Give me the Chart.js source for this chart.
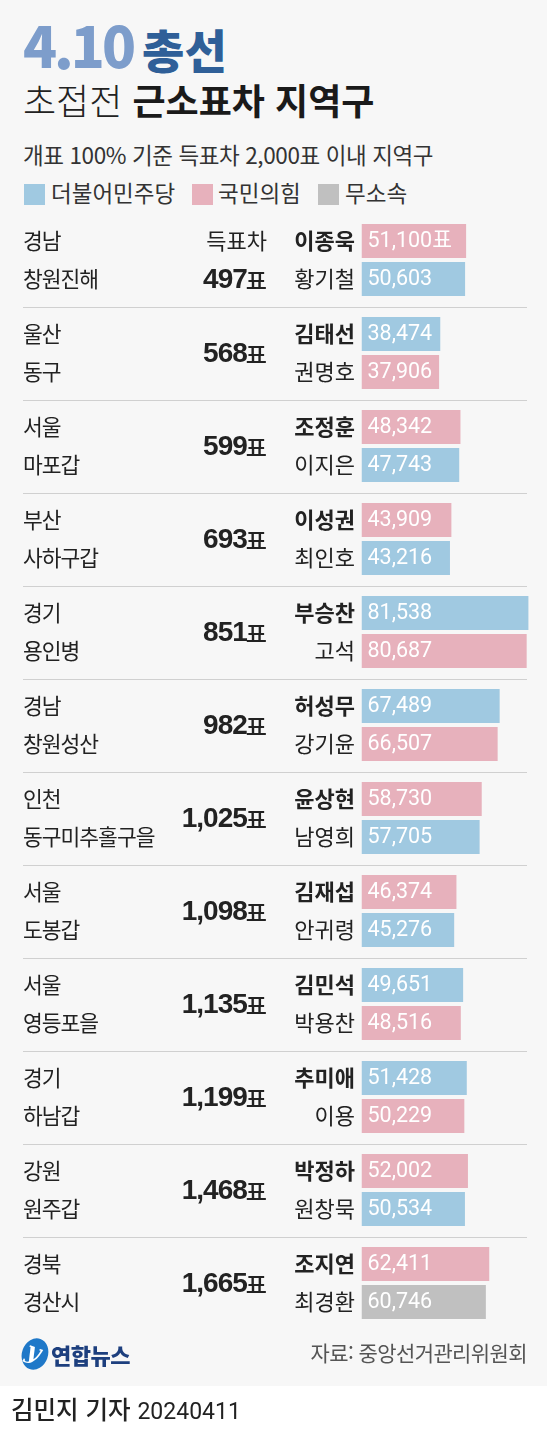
<!DOCTYPE html>
<html lang="ko">
<head>
<meta charset="utf-8">
<script src="https://cdn.jsdelivr.net/npm/chart.js@4.4.1/dist/chart.umd.min.js"></script>
<style>
  html,body{margin:0;padding:0;background:#fff;}
  body{width:547px;height:1440px;position:relative;overflow:hidden;font-family:"Noto Sans CJK KR","Noto Sans",sans-serif;}
  .panel{position:absolute;left:0;top:0;width:547px;height:1386px;background:#f7f7f7;}
  .abs{position:absolute;white-space:nowrap;line-height:1;}
  #c{position:absolute;left:0;top:0;}
  .sq{position:absolute;width:21px;height:21px;}
</style>
</head>
<body>
<div class="panel"></div>
<div class="abs" style="left:23px;top:16px;">
  <span style="font-size:56px;font-weight:900;color:#7d9dcb;letter-spacing:-3px;">4.10</span><span style="font-size:46px;font-weight:900;color:#2f5f98;margin-left:9px;">총선</span>
</div>
<div class="abs" style="left:23px;top:81px;font-size:36px;color:#222;">
  <span style="font-weight:300;">초접전</span> <span style="font-weight:700;color:#1a1a1a;">근소표차 지역구</span>
</div>
<div class="abs" style="left:23px;top:143px;font-size:22.5px;color:#333;letter-spacing:-0.4px;">개표 100% 기준 득표차 2,000표 이내 지역구</div>
<div class="sq" style="left:24px;top:184px;background:#a0c9e1;"></div>
<div class="abs" style="left:51px;top:181px;font-size:22.5px;color:#333;">더불어민주당</div>
<div class="sq" style="left:192px;top:184px;background:#e7b1bc;"></div>
<div class="abs" style="left:218px;top:181px;font-size:22.5px;color:#333;">국민의힘</div>
<div class="sq" style="left:318px;top:184px;background:#c0c0c0;"></div>
<div class="abs" style="left:345px;top:181px;font-size:22.5px;color:#333;">무소속</div>

<canvas id="c" width="547" height="1440"></canvas>

<div class="abs" style="left:22px;top:1338px;">
  <span style="display:inline-block;width:26px;height:32px;border-radius:50%;background:#1f78c8;transform:rotate(20deg);vertical-align:middle;position:relative;">
    <span style="position:absolute;left:4px;top:2px;font-size:24px;font-style:italic;font-weight:700;color:#fff;font-family:'DejaVu Serif',serif;">y</span>
  </span><span style="font-size:22px;font-weight:900;color:#1d3f7e;margin-left:3px;vertical-align:middle;letter-spacing:-0.5px;">연합뉴스</span>
</div>
<div class="abs" style="right:20px;top:1342px;font-size:21px;color:#555;letter-spacing:-0.6px;">자료: 중앙선거관리위원회</div>
<div class="abs" style="left:11px;top:1397px;font-size:24.5px;color:#222;">
  <span style="font-weight:500;">김민지 기자</span> <span style="font-size:23px;font-family:Roboto,'Noto Sans',sans-serif;">20240411</span>
</div>

<script>
// ---- data ----
const provinces = ['경남','울산','서울','부산','경기','경남','인천','서울','서울','경기','강원','경북'];
const districts = ['창원진해','동구','마포갑','사하구갑','용인병','창원성산','동구미추홀구을','도봉갑','영등포을','하남갑','원주갑','경산시'];
const voteGaps = [497,568,599,693,851,982,1025,1098,1135,1199,1468,1665];
const winners = ['이종욱','김태선','조정훈','이성권','부승찬','허성무','윤상현','김재섭','김민석','추미애','박정하','조지연'];
const winnerVotes = [51100,38474,48342,43909,81538,67489,58730,46374,49651,51428,52002,62411];
const winnerParty = ['국민의힘','더불어민주당','국민의힘','국민의힘','더불어민주당','더불어민주당','국민의힘','국민의힘','더불어민주당','더불어민주당','국민의힘','국민의힘'];
const runnersUp = ['황기철','권명호','이지은','최인호','고석','강기윤','남영희','안귀령','박용찬','이용','원창묵','최경환'];
const runnerVotes = [50603,37906,47743,43216,80687,66507,57705,45276,48516,50229,50534,60746];
const runnerParty = ['더불어민주당','국민의힘','더불어민주당','더불어민주당','국민의힘','국민의힘','더불어민주당','더불어민주당','국민의힘','국민의힘','더불어민주당','무소속'];
const partyColors = {'더불어민주당':'#a0c9e1','국민의힘':'#e7b1bc','무소속':'#c0c0c0'};

const KR = '"Noto Sans CJK KR","Noto Sans",sans-serif';
const fmt = v => v.toLocaleString('en-US');

const rowPlugin = {
  id: 'rowText',
  beforeDatasetsDraw(chart){
    const {ctx, scales:{y}} = chart;
    ctx.save();
    ctx.strokeStyle = '#d0d0d0';
    ctx.lineWidth = 1;
    for (let i = 0; i < provinces.length - 1; i++) {
      const yy = Math.round((y.getPixelForValue(i) + y.getPixelForValue(i+1)) / 2) + 0.5;
      ctx.beginPath(); ctx.moveTo(23, yy); ctx.lineTo(527, yy); ctx.stroke();
    }
    ctx.restore();
  },
  afterDatasetsDraw(chart){
    const {ctx, scales:{x,y}} = chart;
    const m0 = chart.getDatasetMeta(0), m1 = chart.getDatasetMeta(1);
    ctx.save();
    ctx.textBaseline = 'middle';
    const gapRight = 267, nameRight = 355;
    for (let i = 0; i < provinces.length; i++) {
      const y0 = m0.data[i].y, y1 = m1.data[i].y, yc = y.getPixelForValue(i);
      // region
      ctx.fillStyle = '#222'; ctx.textAlign = 'left';
      ctx.font = '21.5px ' + KR;
      ctx.letterSpacing = '-1px';
      ctx.fillText(provinces[i], 23, y0);
      ctx.fillText(districts[i], 23, y1);
      ctx.letterSpacing = '0px';
      // gap
      ctx.textAlign = 'right';
      let gy = yc;
      if (i === 0) {
        ctx.font = '22px ' + KR;
        ctx.fillText('득표차', gapRight, y0);
        gy = y1;
      }
      ctx.font = '500 23px ' + KR;
      const pw = ctx.measureText('표').width;
      ctx.fillText('표', gapRight, gy + 1);
      ctx.font = 'bold 28px "Liberation Sans",Arial,sans-serif';
      ctx.letterSpacing = '-1px';
      ctx.fillText(fmt(voteGaps[i]), gapRight - pw + 1, gy + 1);
      ctx.letterSpacing = '0px';
      // names
      ctx.font = 'bold 22px ' + KR;
      ctx.fillText(winners[i], nameRight, y0);
      ctx.font = '22px ' + KR;
      ctx.fillText(runnersUp[i], nameRight, y1);
      // values
      ctx.fillStyle = '#ffffff'; ctx.textAlign = 'left';
      ctx.font = '21.5px Roboto,' + KR;
      const bx = x.getPixelForValue(0) + 6;
      ctx.fillText(fmt(winnerVotes[i]) + (i === 0 ? '표' : ''), bx, y0 + 1);
      ctx.fillText(fmt(runnerVotes[i]), bx, y1 + 1);
    }
    ctx.restore();
  }
};

new Chart(document.getElementById('c'), {
  type: 'bar',
  data: {
    labels: provinces.map((p, i) => p + ' ' + districts[i]),
    datasets: [
      { label: '당선', data: winnerVotes, backgroundColor: winnerParty.map(p => partyColors[p]) },
      { label: '2위', data: runnerVotes, backgroundColor: runnerParty.map(p => partyColors[p]) }
    ]
  },
  options: {
    indexAxis: 'y',
    responsive: false,
    devicePixelRatio: 1,
    animation: false,
    categoryPercentage: 76/93,
    barPercentage: 34/38,
    layout: { padding: { left: 361.5, right: 11.5, top: 213.5, bottom: 110.5 } },
    scales: {
      x: { display: false, min: 0, max: 85000 },
      y: { display: false }
    },
    plugins: { legend: { display: false }, tooltip: { enabled: false }, title: { display: false } }
  },
  plugins: [rowPlugin]
});
</script>
</body>
</html>
